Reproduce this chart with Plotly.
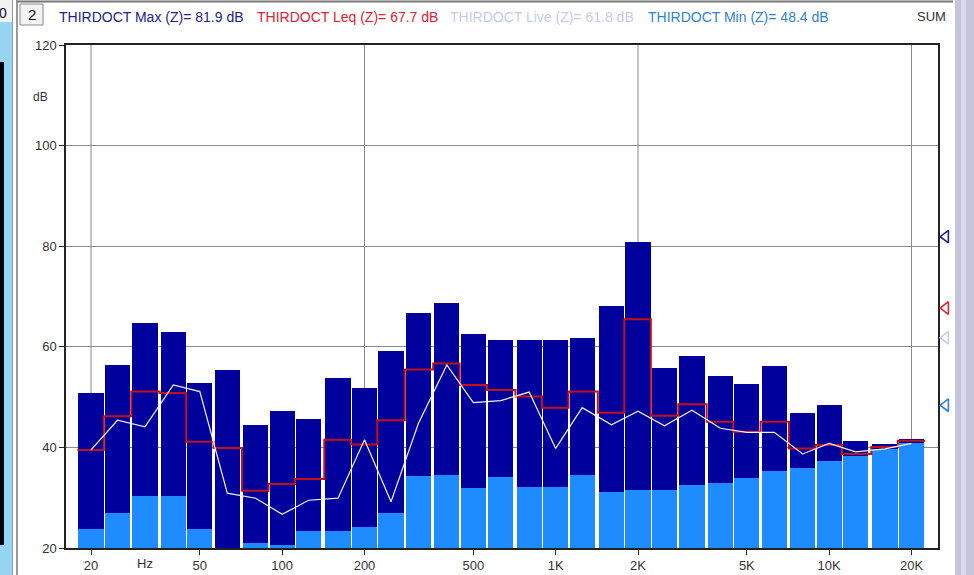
import numpy as np
import plotly.graph_objects as go

# Third-octave band centre frequencies (Hz)
freqs = [20, 25, 31.5, 40, 50, 63, 80, 100, 125, 160, 200, 250, 315, 400, 500, 630,
         800, 1000, 1250, 1600, 2000, 2500, 3150, 4000, 5000, 6300, 8000, 10000,
         12500, 16000, 20000]

# Band levels in dB (Z-weighted)
lmax = [50.8, 56.4, 64.7, 62.9, 52.9, 55.4, 44.5, 47.3, 45.6, 53.7, 51.9, 59.2, 66.7,
        68.8, 62.5, 61.4, 61.4, 61.4, 61.8, 68.1, 80.8, 55.8, 58.2, 54.1, 52.6, 56.2,
        46.9, 48.4, 41.3, 40.6, 41.7]
lmin = [23.7, 26.9, 30.4, 30.4, 23.7, 19.0, 20.9, 20.5, 23.4, 23.4, 24.1, 26.9, 34.3,
        34.6, 31.9, 34.2, 32.2, 32.2, 34.6, 31.1, 31.5, 31.5, 32.5, 32.9, 34.0, 35.4,
        36.0, 37.2, 38.2, 39.7, 40.8]
leq = [39.5, 46.2, 51.1, 50.8, 41.1, 39.9, 31.4, 32.7, 33.7, 41.5, 40.6, 45.4, 55.5,
       56.7, 52.4, 51.4, 50.1, 47.9, 51.1, 46.9, 65.5, 46.3, 48.6, 45.1, 43.1, 45.1,
       39.8, 40.5, 38.7, 40.1, 41.3]
live = [39.5, 45.4, 44.1, 52.4, 51.1, 30.9, 29.9, 26.7, 29.5, 29.9, 41.5, 29.2, 44.8,
        56.4, 48.9, 49.3, 51.0, 39.8, 47.9, 44.5, 47.2, 44.3, 47.4, 43.8, 43.0, 43.0,
        38.7, 40.8, 39.1, 39.7, 40.8]

# Overall (SUM) values shown in the header and by the side markers
sum_names = ["Max", "Leq", "Live", "Min"]
sum_values = [81.9, 67.7, 61.8, 48.4]
sum_colors = ["#22228a", "#dd2233", "#c6cde8", "#2f82d2"]

# Axis ticks
xtick_freqs = [20, 50, 100, 200, 500, 1000, 2000, 5000, 10000, 20000]
xtick_text = ["20", "50", "100", "200", "500", "1K", "2K", "5K", "10K", "20K"]
xgrid_freqs = [20, 200, 2000, 20000]
ytick_vals = [20, 40, 60, 80, 100, 120]

lx = np.log10(freqs)
band = 0.1  # one third of an octave in decades

# Figure geometry (pixels)
W, H = 974, 575
L, R, T, B = 66, 938, 45, 548   # spectrum plot box
PR = 955                          # right edge of the paper area (marker strip beyond R)
pw, ph = PR - L, B - T
dec = 273.5                       # pixels per decade
x_lo = np.log10(20) - 25 / dec
x_hi = x_lo + (R - L) / dec
split = (R - L) / pw


def px(x):
    return (x - L) / pw


def py(y):
    return (B - y) / ph


fig = go.Figure()

fig.add_trace(go.Bar(x=lx, y=lmax, width=band * 0.92, marker_color="#00009c",
                     marker_line_width=0, hoverinfo="skip"))
fig.add_trace(go.Bar(x=lx, y=lmin, width=band * 0.92, marker_color="#1e8cff",
                     marker_line_width=0, hoverinfo="skip"))

# Leq as a stepped line across each band
step_x = list(lx - band / 2) + [lx[-1] + band / 2]
step_y = list(leq) + [leq[-1]]
fig.add_trace(go.Scatter(x=step_x, y=step_y, mode="lines", line_shape="hv",
                         line=dict(color="#c40f14", width=2), hoverinfo="skip"))

# Live spectrum
fig.add_trace(go.Scatter(x=lx, y=live, mode="lines",
                         line=dict(color="#f2f2ff", width=1.2), hoverinfo="skip"))

# SUM markers in the narrow strip right of the plot box
fig.add_trace(go.Scatter(x=[0.45] * len(sum_values), y=sum_values, xaxis="x2", yaxis="y2",
                         mode="markers", cliponaxis=False, hoverinfo="skip",
                         marker=dict(symbol="triangle-left-open", size=11,
                                     color=sum_colors, line=dict(width=1.6, color=sum_colors))))

shapes = []
for f in xgrid_freqs:
    shapes.append(dict(type="line", xref="x", yref="paper", x0=np.log10(f), x1=np.log10(f),
                       y0=0, y1=1, layer="below", line=dict(color="#8a8a8a", width=1)))

# Window frame decorations
shapes += [
    dict(type="rect", xref="paper", yref="paper", x0=px(0), x1=px(12), y0=py(575), y1=py(22),
         fillcolor="#95d4f2", line_width=0, layer="below"),
    dict(type="rect", xref="paper", yref="paper", x0=px(0), x1=px(4), y0=py(545), y1=py(62),
         fillcolor="#050510", line_width=0, layer="below"),
    dict(type="rect", xref="paper", yref="paper", x0=px(0), x1=px(12), y0=py(22), y1=py(0),
         fillcolor="#f2f2f2", line_width=0, layer="below"),
    dict(type="line", xref="paper", yref="paper", x0=px(12.5), x1=px(12.5), y0=py(575), y1=py(0),
         line=dict(color="#9a9a9a", width=1)),
    dict(type="line", xref="paper", yref="paper", x0=px(17), x1=px(17), y0=py(575), y1=py(0),
         line=dict(color="#777777", width=1.5)),
    dict(type="line", xref="paper", yref="paper", x0=px(17), x1=px(953), y0=py(1.5), y1=py(1.5),
         line=dict(color="#777777", width=2)),
    dict(type="rect", xref="paper", yref="paper", x0=px(20), x1=px(43), y0=py(25), y1=py(4),
         fillcolor="#f4f4f4", line=dict(color="#8a8a8a", width=1)),
    dict(type="rect", xref="paper", yref="paper", x0=px(955), x1=px(974), y0=py(575), y1=py(0),
         fillcolor="#c4c4dc", line_width=0, layer="below"),
    dict(type="rect", xref="paper", yref="paper", x0=px(961), x1=px(966), y0=py(575), y1=py(0),
         fillcolor="#dadaea", line_width=0, layer="below"),
]

annotations = []
header_x = [57, 255, 448, 646]
for name, val, col, hx in zip(sum_names, sum_values, sum_colors, header_x):
    annotations.append(dict(xref="paper", yref="paper", x=px(hx), y=py(17), xanchor="left",
                            yanchor="middle", showarrow=False,
                            text=f"THIRDOCT {name} (Z)= {val} dB",
                            font=dict(size=14, color=col, family="Liberation Sans")))
annotations += [
    dict(xref="paper", yref="paper", x=px(948), y=py(17), xanchor="right", yanchor="middle",
         showarrow=False, text="SUM", font=dict(size=13, color="#333333", family="Liberation Sans")),
    dict(xref="paper", yref="paper", x=px(31.5), y=py(15), xanchor="center", yanchor="middle",
         showarrow=False, text="2", font=dict(size=15, color="#111111", family="Liberation Sans")),
    dict(xref="paper", yref="paper", x=px(3), y=py(13), xanchor="center", yanchor="middle",
         showarrow=False, text="0", font=dict(size=14, color="#111111", family="Liberation Sans")),
    dict(xref="paper", yref="paper", x=px(145), y=py(563), xanchor="center", yanchor="middle",
         showarrow=False, text="Hz", font=dict(size=13, color="#333333", family="Liberation Sans")),
    dict(xref="paper", yref="paper", x=px(50), y=py(97), xanchor="right", yanchor="middle",
         showarrow=False, text="dB", font=dict(size=12, color="#333333", family="Liberation Sans")),
]

axis_line = dict(showline=True, linecolor="#222222", linewidth=1.5, mirror=True,
                 ticks="outside", ticklen=5, tickcolor="#222222", zeroline=False,
                 automargin=False, tickfont=dict(size=13, color="#333333"))

fig.update_layout(
    width=W, height=H,
    margin=dict(l=L, r=W - PR, t=T, b=H - B, pad=0, autoexpand=False),
    paper_bgcolor="white", plot_bgcolor="white",
    barmode="overlay", bargap=0, showlegend=False,
    shapes=shapes, annotations=annotations,
    font=dict(family="Liberation Sans", size=13, color="#333333"),
    xaxis=dict(domain=[0, split], range=[x_lo, x_hi], tickvals=np.log10(xtick_freqs),
               ticktext=xtick_text, showgrid=False, **axis_line),
    yaxis=dict(range=[20, 120], tickvals=ytick_vals, showgrid=True, gridcolor="#8a8a8a",
               gridwidth=1, **axis_line),
    xaxis2=dict(domain=[split, 1], range=[0, 1], visible=False, anchor="y2"),
    yaxis2=dict(range=[20, 120], visible=False, anchor="x2", overlaying="y"),
)

# Keep the fixed-size page free of scrollbars
fig.write_html("out.html",
               post_script="document.documentElement.style.overflow='hidden';"
                           "document.body.style.overflow='hidden';")
